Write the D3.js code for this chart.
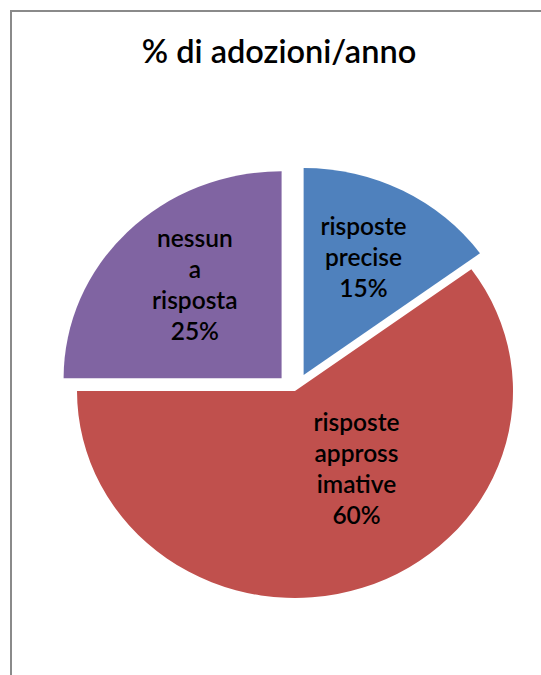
<!DOCTYPE html>
<html>
<head>
<meta charset="utf-8">
<script src="https://cdn.jsdelivr.net/npm/d3@7"></script>
<style>
  html, body { margin: 0; padding: 0; background: #fff; }
  svg { display: block; }
  text { font-family: Lato, "Open Sans", sans-serif; fill: #000; }
</style>
</head>
<body>
<svg id="chart" width="541" height="675"></svg>
<script>
// Data
const title = "% di adozioni/anno";
const categories = ["risposte precise", "risposte approssimative", "nessuna risposta"];
const values = [15, 60, 25];
const labelLines = [
  ["risposte", "precise", "15%"],
  ["risposte", "appross", "imative", "60%"],
  ["nessun", "a", "risposta", "25%"]
];
const colors = ["#4F81BD", "#C0504D", "#8064A2"];
const exploded = [true, false, true];

const W = 541, H = 675;
const svg = d3.select("#chart");

// Chart frame
svg.append("rect")
  .attr("x", 11).attr("y", 11)
  .attr("width", W + 20).attr("height", H + 20)
  .attr("fill", "none")
  .attr("stroke", "#8a8a8a")
  .attr("stroke-width", 2);

// Title
svg.append("text")
  .attr("x", 279).attr("y", 63)
  .attr("text-anchor", "middle")
  .attr("font-size", 32.5)
  .attr("font-weight", 600)
  .text(title);

// Pie geometry
const radius = 207;
const stretchX = 218 / 207;
const explode = 18;

const pie = d3.pie().sort(null).value(d => d);
const arcs = pie(values);
const arc = d3.arc().innerRadius(0).outerRadius(radius);

const g = svg.append("g")
  .attr("transform", `translate(295,391) scale(${stretchX},1)`);

const slice = g.selectAll("g.slice")
  .data(arcs)
  .join("g")
  .attr("class", "slice")
  .attr("transform", (d, i) => {
    if (!exploded[i]) return null;
    const a = (d.startAngle + d.endAngle) / 2;
    return `translate(${Math.sin(a) * explode},${-Math.cos(a) * explode})`;
  });

slice.append("path")
  .attr("d", arc)
  .attr("fill", (d, i) => colors[i]);

// Data labels: placed along each slice's bisector (red label nudged toward its upper part)
const labelAngleShift = [-0.02, -0.33, 0.06];
const labelRadiusFrac = [0.63, 0.47, 0.6];
const lineH = 31;

slice.each(function(d, i) {
  const a = (d.startAngle + d.endAngle) / 2 + labelAngleShift[i];
  const r = radius * labelRadiusFrac[i];
  const cx = Math.sin(a) * r, cy = -Math.cos(a) * r;
  const lines = labelLines[i];
  const t = d3.select(this).append("text")
    .attr("text-anchor", "middle")
    .attr("font-size", 24.5)
    .attr("font-weight", 600)
    .attr("transform", `translate(${cx},${cy}) scale(${1 / stretchX},1)`);
  lines.forEach((ln, k) => {
    t.append("tspan")
      .attr("x", 0)
      .attr("y", (k - (lines.length - 1) / 2) * lineH)
      .attr("dy", "0.35em")
      .text(ln);
  });
});
</script>
</body>
</html>
